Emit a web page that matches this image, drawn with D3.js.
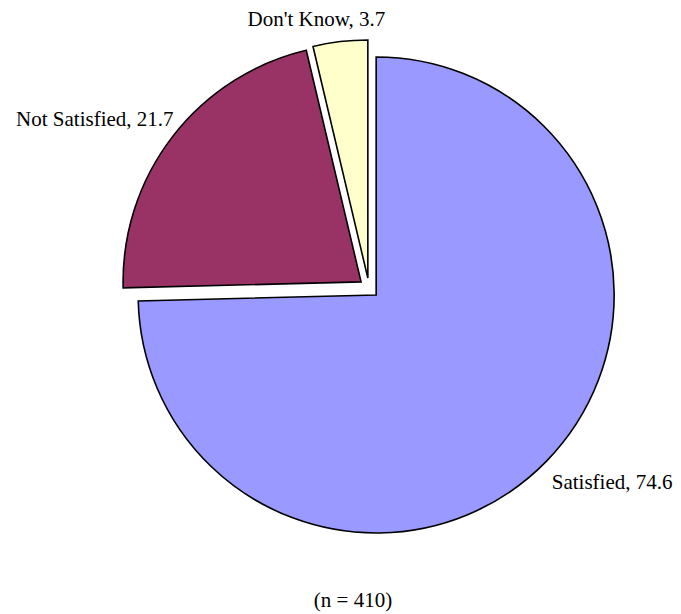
<!DOCTYPE html>
<html>
<head>
<meta charset="utf-8">
<script src="https://cdn.jsdelivr.net/npm/d3@7"></script>
<style>
  html, body { margin: 0; padding: 0; background: #fff; }
  svg { display: block; }
  text { font-family: "Liberation Serif", "Times New Roman", serif; font-size: 21px; fill: #000; }
</style>
</head>
<body>
<svg id="chart" width="681" height="614"></svg>
<script>
// Satisfaction shares (%)
const categories = ["Satisfied", "Not Satisfied", "Don't Know"];
const shares = [74.6, 21.7, 3.7];
const colors = ["#9999FF", "#993366", "#FFFFCC"];
const note = "(n = 410)";

const svg = d3.select("#chart");
const cx = 369, cy = 288, radius = 238, explode = 10;

const pie = d3.pie().sort(null).value(d => d.value);
const arcs = pie(categories.map((c, i) => ({ name: c, value: shares[i], color: colors[i] })));
const arc = d3.arc().innerRadius(0).outerRadius(radius);

const g = svg.append("g").attr("transform", `translate(${cx},${cy})`);

// Every slice is pulled out along its bisector
const mid = d => (d.startAngle + d.endAngle) / 2;
g.selectAll("path.slice")
  .data(arcs)
  .join("path")
  .attr("class", "slice")
  .attr("d", arc)
  .attr("transform", d => `translate(${Math.sin(mid(d)) * explode},${-Math.cos(mid(d)) * explode})`)
  .attr("fill", d => d.data.color)
  .attr("stroke", "#000")
  .attr("stroke-width", 1.6)
  .attr("stroke-linejoin", "miter");

// Outside labels: anchored beyond the rim on the slice bisector
const labelR = 272;
const nudge = [
  { anchor: "start", dx: -12, dy: 11 },
  { anchor: "end", dx: 20, dy: 4 },
  { anchor: "middle", dx: -21, dy: 8 }
];
g.selectAll("text.label")
  .data(arcs)
  .join("text")
  .attr("class", "label")
  .attr("x", (d, i) => Math.sin(mid(d)) * labelR + nudge[i].dx)
  .attr("y", (d, i) => -Math.cos(mid(d)) * labelR + nudge[i].dy)
  .attr("text-anchor", (d, i) => nudge[i].anchor)
  .text(d => `${d.data.name}, ${d.data.value}`);

svg.append("text")
  .attr("x", 353)
  .attr("y", 607)
  .attr("text-anchor", "middle")
  .text(note);
</script>
</body>
</html>
